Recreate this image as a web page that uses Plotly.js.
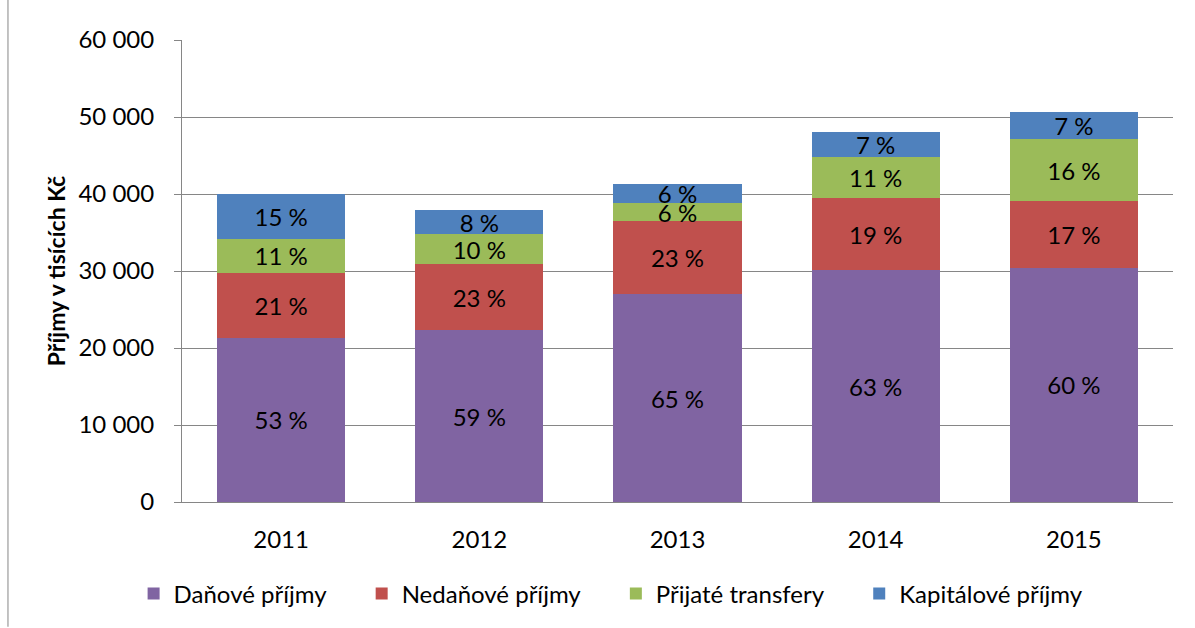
<!DOCTYPE html>
<html>
<head>
<meta charset="utf-8">
<script src="https://cdn.plot.ly/plotly-3.0.1.min.js"></script>
<style>html,body{margin:0;padding:0;background:#fff;}#chart{width:1195px;height:628px;}</style>
</head>
<body>
<div id="chart"></div>
<script>
const years = ['2011', '2012', '2013', '2014', '2015'];
const danove = [21300, 22300, 27000, 30100, 30400];
const nedanove = [8500, 8600, 9500, 9400, 8700];
const transfery = [4300, 3900, 2300, 5300, 8000];
const kapitalove = [5900, 3100, 2500, 3300, 3500];
const pctDanove = ['53 %', '59 %', '65 %', '63 %', '60 %'];
const pctNedanove = ['21 %', '23 %', '23 %', '19 %', '17 %'];
const pctTransfery = ['11 %', '10 %', '6 %', '11 %', '16 %'];
const pctKapitalove = ['15 %', '8 %', '6 %', '7 %', '7 %'];
const seriesNames = ['Daňové příjmy', 'Nedaňové příjmy', 'Přijaté transfery', 'Kapitálové příjmy'];

const FONT = 'Lato, "Open Sans", sans-serif';
const FS = 24;
const PAD = '\u00a0\u00a0\u00a0\u00a0\u00a0';
function tr(name, y, text, color, last) {
  return {
    type: 'bar', name: last ? name : name + PAD, x: years, y: y, text: text,
    textposition: 'inside', insidetextanchor: 'middle', textangle: 0,
    insidetextfont: {family: FONT, size: FS, color: '#000'},
    marker: {color: color, line: {width: 0}},
    hoverinfo: 'skip'
  };
}
const data = [
  tr(seriesNames[0], danove, pctDanove, '#8064A2'),
  tr(seriesNames[1], nedanove, pctNedanove, '#C0504D'),
  tr(seriesNames[2], transfery, pctTransfery, '#9BBB59'),
  tr(seriesNames[3], kapitalove, pctKapitalove, '#4F81BD', true)
];
const layout = {
  width: 1195, height: 628,
  margin: {l: 182, r: 22, t: 40, b: 124},
  barmode: 'stack', bargap: 0.354,
  separators: ', ',
  paper_bgcolor: '#fff', plot_bgcolor: '#fff',
  font: {family: FONT, size: FS, color: '#000'},
  uniformtext: {mode: 'show', minsize: FS},
  showlegend: true,
  legend: {orientation: 'h', x: 0.433, xanchor: 'center', y: -0.15, yanchor: 'top',
    font: {family: FONT, size: FS, color: '#000'}, itemwidth: 30, traceorder: 'normal'},
  xaxis: {type: 'category', showgrid: false, showline: true, linecolor: '#868686', linewidth: 1,
    ticks: '', ticklabelstandoff: 16, tickfont: {family: FONT, size: FS}, fixedrange: true},
  yaxis: {range: [0, 60000], dtick: 10000, tickformat: ',d', showgrid: true, gridcolor: '#868686',
    gridwidth: 1, showline: true, linecolor: '#868686', linewidth: 1, ticks: 'outside', ticklen: 7,
    tickcolor: '#868686', ticklabelstandoff: 15, zeroline: false,
    tickfont: {family: FONT, size: FS},
    title: {text: 'Příjmy v tisících Kč', font: {family: FONT, size: 23, weight: 'bold'}, standoff: 6}},
  shapes: [{type: 'line', xref: 'paper', yref: 'paper', x0: -0.1756, x1: -0.1756, y0: -0.27, y1: 1.09,
    line: {color: '#868686', width: 1}}]
};
Plotly.newPlot('chart', data, layout, {displayModeBar: false, staticPlot: true});
</script>
</body>
</html>
